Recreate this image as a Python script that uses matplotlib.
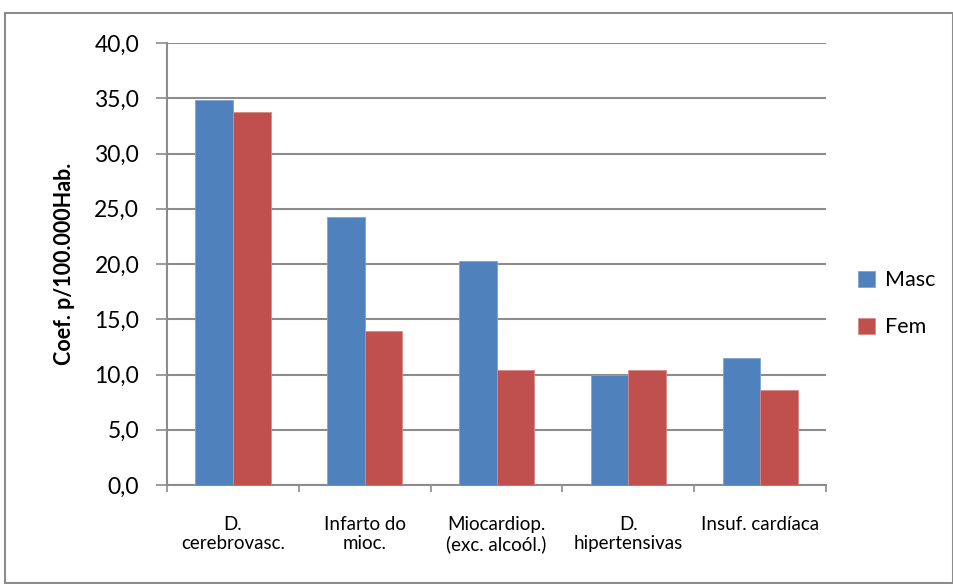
import matplotlib
matplotlib.use("Agg")
import matplotlib.pyplot as plt
import numpy as np
from matplotlib.patches import Rectangle

plt.rcParams['font.family'] = ['Lato', 'DejaVu Sans']

categories = ["D.\ncerebrovasc.", "Infarto do\nmioc.", "Miocardiop.\n(exc. alcoól.)",
              "D.\nhipertensivas", "Insuf. cardíaca"]
masc = [34.8, 24.3, 20.3, 10.0, 11.5]
fem = [33.8, 13.9, 10.4, 10.4, 8.6]
yticks = [0, 5, 10, 15, 20, 25, 30, 35, 40]

fig = plt.figure(figsize=(9.54, 5.84), dpi=100)
ax = fig.add_axes([0.175, 0.1695, 0.691, 0.7568])

x = np.arange(len(categories))
w = 1 / 3.5
ax.bar(x - w / 2, masc, width=w, color="#4f81bd", edgecolor="#7fa3d0", linewidth=0.6, label="Masc", zorder=3)
ax.bar(x + w / 2, fem, width=w, color="#c0504d", edgecolor="#d98a88", linewidth=0.6, label="Fem", zorder=3)

ax.set_xlim(-0.5, len(categories) - 0.5)
ax.set_ylim(0, 40)
ax.set_yticks(yticks)
ax.set_yticklabels([f"{v:.1f}".replace(".", ",") for v in yticks], fontsize=16.5)
ax.yaxis.grid(True, color="#8c8c8c", linewidth=1.5, zorder=0)
ax.set_axisbelow(True)

ax.set_xticks(x)
ax.set_xticklabels(categories, fontsize=13.5, linespacing=1.15)
ax.tick_params(axis="x", length=0, pad=22)
ax.set_xticks(np.arange(-0.5, len(categories)), minor=True)
ax.tick_params(axis="x", which="minor", length=5, color="#8c8c8c", width=1.2)
ax.tick_params(axis="y", length=8, color="#8c8c8c", width=1.2, pad=12)

for s in ["top", "right"]:
    ax.spines[s].set_visible(False)
for s in ["left", "bottom"]:
    ax.spines[s].set_color("#8c8c8c")
    ax.spines[s].set_linewidth(1.5)

ax.set_ylabel("Coef. p/100.000Hab.", fontsize=15.5, fontweight="bold", labelpad=14)

ax.legend(loc="center left", bbox_to_anchor=(1.0, 0.41), frameon=False, fontsize=15.5,
          handlelength=0.75, handleheight=0.75, labelspacing=1.25, handletextpad=0.5, borderaxespad=1.1)

fig.patches.append(Rectangle((5 / 954, 1 / 584), 948 / 954, 570 / 584, transform=fig.transFigure,
                             fill=False, edgecolor="#8c8c8c", linewidth=1.5))

fig.savefig("out.png", dpi=100)
